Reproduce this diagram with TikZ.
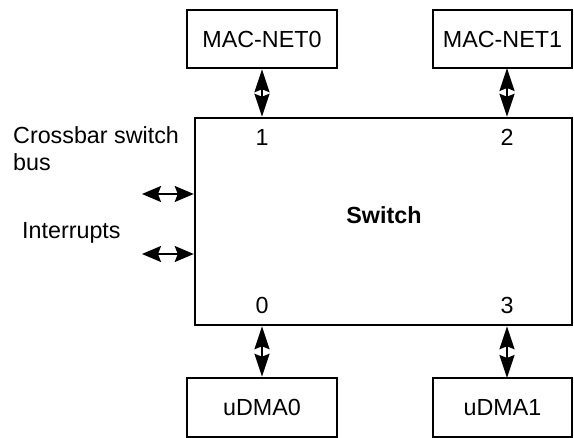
\documentclass[tikz,border=0pt]{standalone}
\usepackage{fontspec}
\setmainfont{Liberation Sans}
\usetikzlibrary{arrows.meta}
\begin{document}
\begin{tikzpicture}[x=1pt,y=-1pt,
  blk/.style={draw,line width=2.5pt,inner sep=0pt,font=\fontsize{23.3}{27}\selectfont},
  lbl/.style={inner sep=0pt,font=\fontsize{23.3}{27}\selectfont},
  hv/.style={Stealth[length=23pt 0 0,width=15pt 0 0,inset=3pt 0 0]},
  hh/.style={Stealth[length=19pt 0 0,width=16pt 0 0,inset=3pt 0 0]},
  dblv/.style={line width=1.8pt,{Stealth[length=23pt 0 0,width=15pt 0 0,inset=3pt 0 0]}-{Stealth[length=23pt 0 0,width=15pt 0 0,inset=3pt 0 0]}},
  dblh/.style={line width=1.8pt,{Stealth[length=19pt 0 0,width=16pt 0 0,inset=3pt 0 0]}-{Stealth[length=19pt 0 0,width=16pt 0 0,inset=3pt 0 0]}}]
\useasboundingbox (0,0) rectangle (574,438);
\node[blk,minimum width=150pt,minimum height=58pt] (mac0) at (262,39) {MAC-NET0};
\node[blk,minimum width=139pt,minimum height=58pt] (mac1) at (502.5,39) {MAC-NET1};
\node[blk,minimum width=377pt,minimum height=207pt] (sw) at (383.5,221.5) {};
\node[blk,minimum width=150pt,minimum height=59pt] (dma0) at (262,407.5) {uDMA0};
\node[blk,minimum width=139pt,minimum height=59pt] (dma1) at (502.5,407.5) {uDMA1};
\node[lbl,font=\fontsize{23.3}{27}\selectfont\bfseries] (swt) at (384,215) {Switch};
\node[lbl] (p1) at (262,137) {1};
\node[lbl] (p2) at (507,137) {2};
\node[lbl] (p0) at (262,305) {0};
\node[lbl] (p3) at (507,305) {3};
\node[lbl,anchor=west,align=left] (cb) at (13,149) {Crossbar switch\\bus};
\node[lbl,anchor=west] (irq) at (22,233) {Interrupts};
\coordinate (m1) at (507,68);
\coordinate (d1) at (507,378);
\coordinate (a1) at (142,194);
\coordinate (a2) at (142,254);
\draw[dblv] (mac0.south) -- (mac0.south |- sw.north);
\draw[dblv] (m1) -- (m1 |- sw.north);
\draw[dblv] (dma0.north) -- (dma0.north |- sw.south);
\draw[dblv] (d1) -- (d1 |- sw.south);
\draw[dblh] (a1) -- (a1 -| sw.west);
\draw[dblh] (a2) -- (a2 -| sw.west);
\end{tikzpicture}
\end{document}
